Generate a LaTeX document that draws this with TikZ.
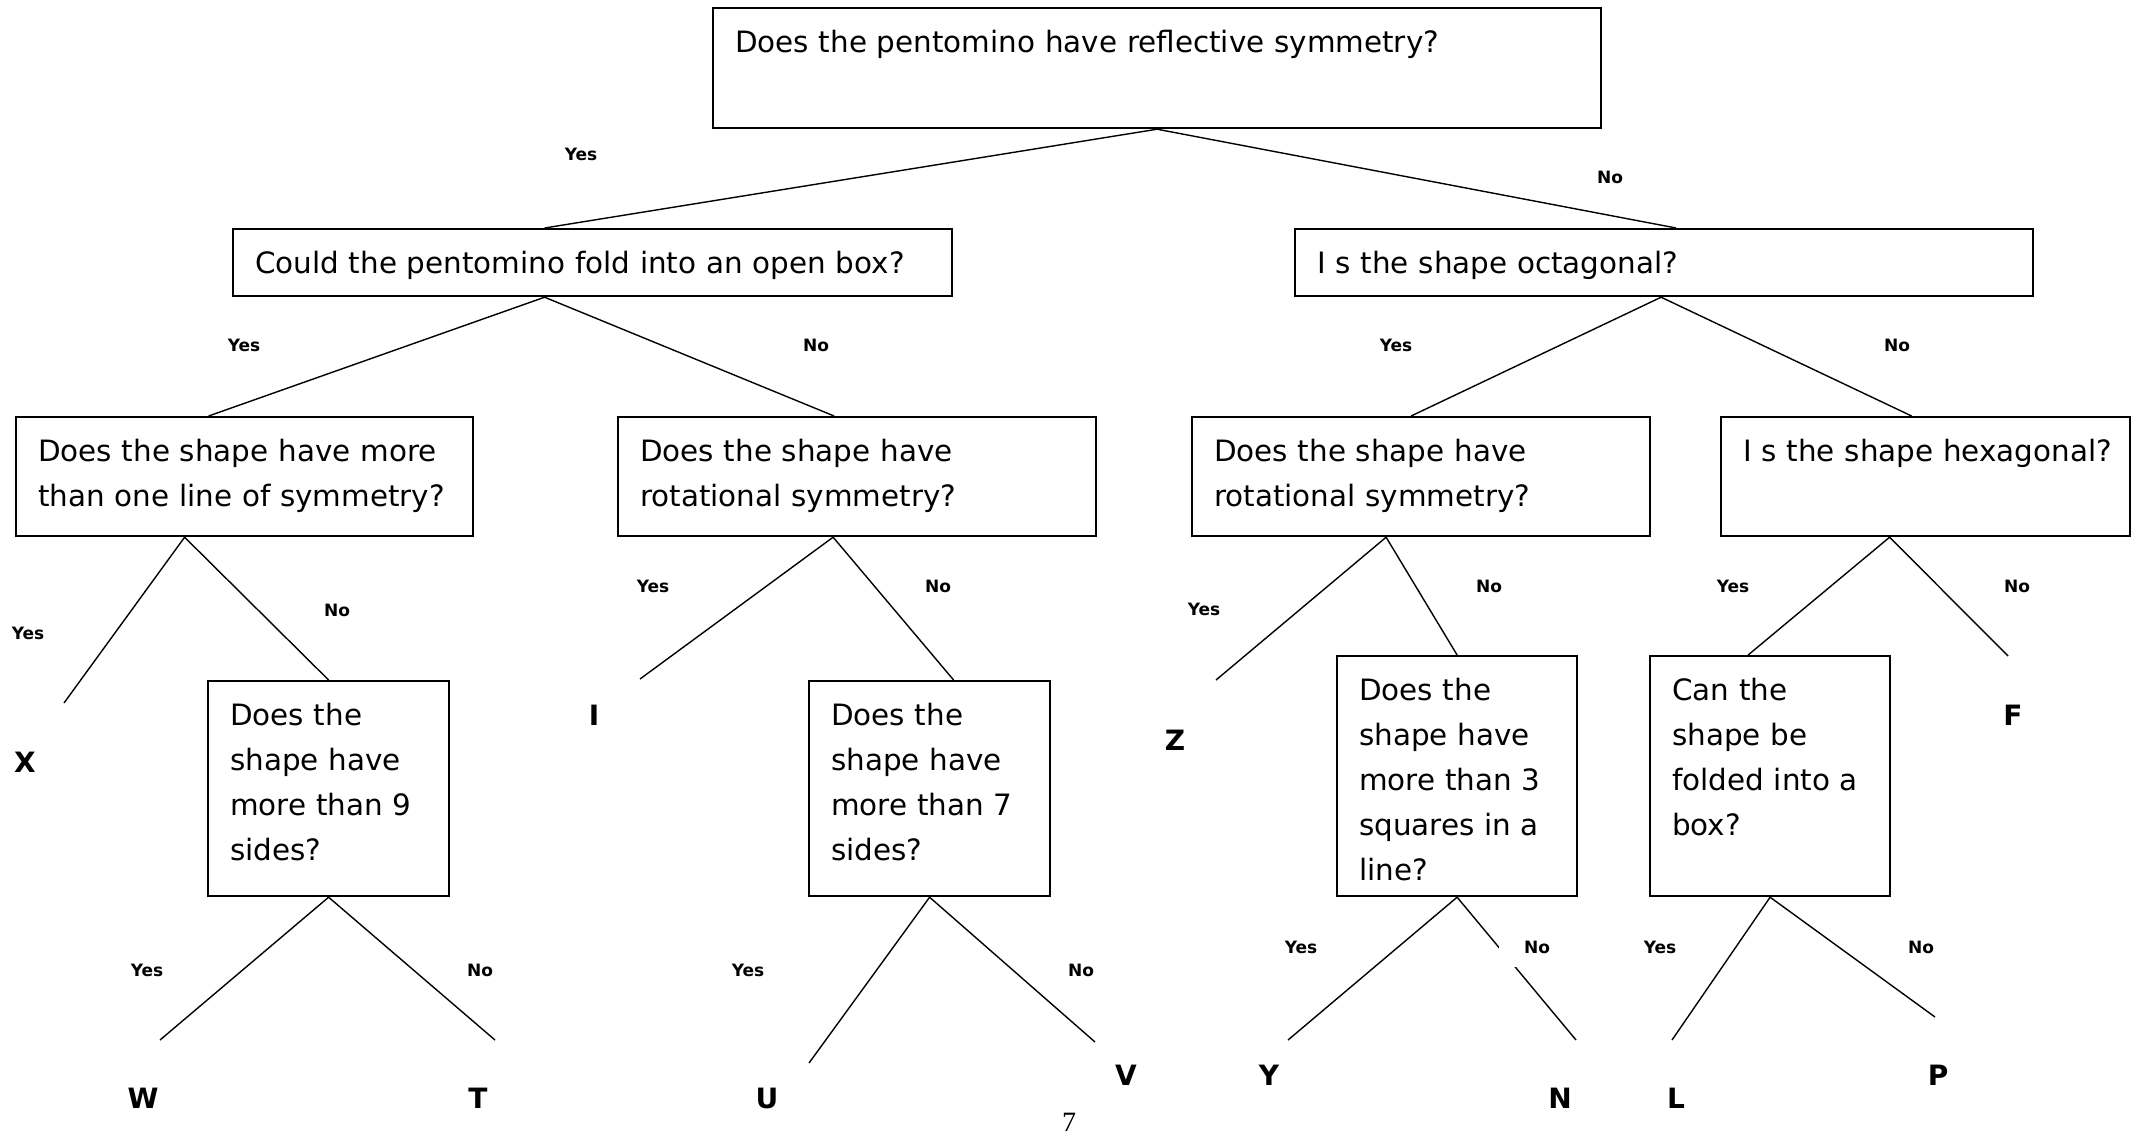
\documentclass[tikz,border=0pt]{standalone}
\usepackage{fontspec}
\setmainfont{DejaVu Sans}
\newfontfamily\pagefont{Liberation Serif}

\begin{document}
\begin{tikzpicture}[x=0.5pt,y=-0.5pt,
	qbox/.style={draw,line width=1.1pt,anchor=north west,align=left,inner xsep=11pt,inner ysep=0pt,text height=22pt,font=\fontsize{14.7}{22.5}\selectfont},
	ans/.style={fill=white,inner sep=2pt,font=\bfseries\fontsize{8.5}{10}\selectfont},
	leaf/.style={font=\bfseries\fontsize{14}{16}\selectfont},
	link/.style={line width=0.7pt}]
	\useasboundingbox (0,0) rectangle (2140,1136);

	\node[qbox,text width=422pt,text depth=38pt] (pent) at (712,7) {Does the pentomino have reflective symmetry?};
	\node[qbox,text width=337.5pt,text depth=11.5pt] (openbox) at (232,228) {Could the pentomino fold into an open box?};
	\node[qbox,text width=347pt,text depth=11.5pt] (octa) at (1294,228) {I s the shape octagonal?};
	\node[qbox,text width=206.5pt,text depth=37.5pt] (lines) at (15,416) {Does the shape have more\\than one line of symmetry?};
	\node[qbox,text width=217pt,text depth=37.5pt] (rotA) at (617,416) {Does the shape have\\rotational symmetry?};
	\node[qbox,text width=207pt,text depth=37.5pt] (rotB) at (1191,416) {Does the shape have\\rotational symmetry?};
	\node[qbox,text width=182.5pt,text depth=37.5pt] (hexa) at (1720,416) {\mbox{I s the shape hexagonal?}};
	\node[qbox,text width=98.5pt,text depth=85.5pt] (sidesA) at (207,680) {Does the\\shape have\\more than 9\\sides?};
	\node[qbox,text width=98.5pt,text depth=85.5pt] (sidesB) at (808,680) {Does the\\shape have\\more than 7\\sides?};
	\node[qbox,text width=98pt,text depth=98pt] (squares) at (1336,655) {Does the\\shape have\\more than 3\\squares in a\\line?};
	\node[qbox,text width=98pt,text depth=98pt] (folded) at (1649,655) {Can the\\shape be\\folded into a\\box?};

	\coordinate (endX) at (64,703);
	\coordinate (endI) at (640,679);
	\coordinate (endZ) at (1216,680);
	\coordinate (endF) at (2008,656);
	\coordinate (endW) at (160,1040);
	\coordinate (endT) at (495,1040);
	\coordinate (endU) at (809,1063);
	\coordinate (endV) at (1095,1042);
	\coordinate (endY) at (1288,1040);
	\coordinate (endN) at (1576,1040);
	\coordinate (endL) at (1672,1040);
	\coordinate (endP) at (1935,1017);

	\draw[link] ([xshift=-24pt]openbox.north) -- (pent.south) -- ([xshift=6pt]octa.north);
	\draw[link] ([xshift=-18pt]lines.north) -- ([xshift=-24pt]openbox.south) -- ([xshift=-11.5pt]rotA.north);
	\draw[link] ([xshift=-5pt]rotB.north) -- ([xshift=-1.5pt]octa.south) -- ([xshift=-7pt]hexa.north);
	\draw[link] (endX) -- ([xshift=-30pt]lines.south) -- (sidesA.north);
	\draw[link] (endI) -- ([xshift=-12pt]rotA.south) -- ([xshift=12pt]sidesB.north);
	\draw[link] (endZ) -- ([xshift=-17.5pt]rotB.south) -- (squares.north);
	\draw[link] ([xshift=-11pt]folded.north) -- ([xshift=-18pt]hexa.south) -- (endF);
	\draw[link] (endW) -- (sidesA.south) -- (endT);
	\draw[link] (endU) -- (sidesB.south) -- (endV);
	\draw[link] (endY) -- (squares.south) -- (endN);
	\draw[link] (endL) -- (folded.south) -- (endP);

	\node[ans] (y1) at (581,154) {Yes};
	\node[ans] (n1) at (1610,177) {No};
	\node[ans] (y2) at (244,345) {Yes};
	\node[ans] (n2) at (816,345) {No};
	\node[ans] (y3) at (1396,345) {Yes};
	\node[ans] (n3) at (1897,345) {No};
	\node[ans] (y4) at (28,633) {Yes};
	\node[ans] (n4) at (337,610) {No};
	\node[ans] (y5) at (653,586) {Yes};
	\node[ans] (n5) at (938,586) {No};
	\node[ans] (y6) at (1204,609) {Yes};
	\node[ans] (n6) at (1489,586) {No};
	\node[ans] (y7) at (1733,586) {Yes};
	\node[ans] (n7) at (2017,586) {No};
	\node[ans] (y8) at (147,970) {Yes};
	\node[ans] (n8) at (480,970) {No};
	\node[ans] (y9) at (748,970) {Yes};
	\node[ans] (n9) at (1081,970) {No};
	\node[ans] (y10) at (1301,947) {Yes};
	\node[ans,minimum width=38pt,minimum height=20pt] (n10) at (1537,947) {No};
	\node[ans] (y11) at (1660,947) {Yes};
	\node[ans] (n11) at (1921,947) {No};

	\node[leaf] (X) at (25,762) {X};
	\node[leaf] (I) at (594,715) {I};
	\node[leaf] (Z) at (1175,740) {Z};
	\node[leaf] (F) at (2013,715) {F};
	\node[leaf] (W) at (143,1098) {W};
	\node[leaf] (T) at (478,1098) {T};
	\node[leaf] (U) at (767,1098) {U};
	\node[leaf] (V) at (1126,1075) {V};
	\node[leaf] (Y) at (1269,1075) {Y};
	\node[leaf] (N) at (1560,1098) {N};
	\node[leaf] (L) at (1676,1098) {L};
	\node[leaf] (P) at (1938,1075) {P};

	\node[font=\pagefont\fontsize{14}{16}\selectfont] (page) at (1069,1122) {7};
\end{tikzpicture}
\end{document}
